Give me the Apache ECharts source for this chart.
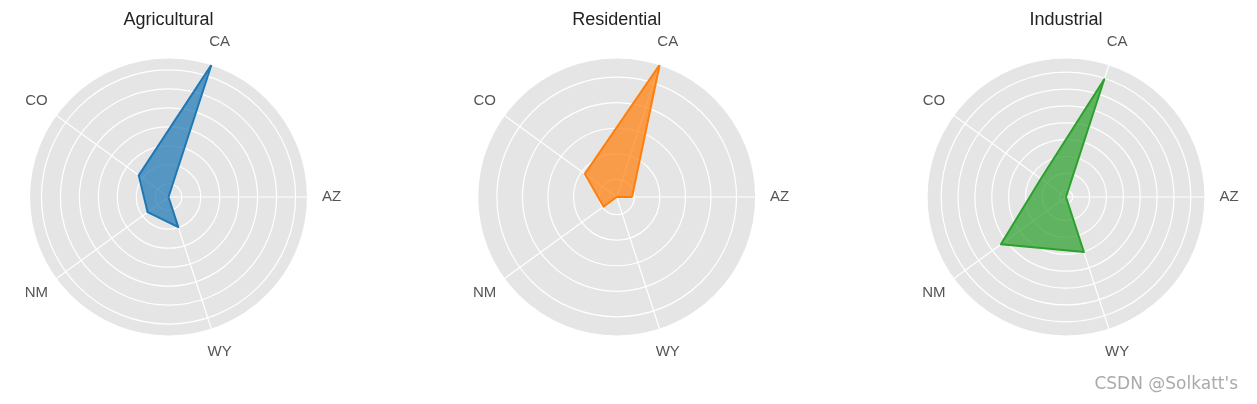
<!DOCTYPE html>
<html>
<head>
<meta charset="utf-8">
<script src="https://cdn.jsdelivr.net/npm/echarts@6/dist/echarts.min.js"></script>
<style>
  html, body { margin: 0; padding: 0; background: #fff; }
  #chart { width: 1257px; height: 404px; }
</style>
</head>
<body>
<div id="chart"></div>
<script>
// ---- data (radial values in grid-ring units; no scale labels in the source) ----
const states = ['AZ', 'CA', 'CO', 'NM', 'WY'];
const stateAngles = [0, 72, 144, 216, 288];
const titles = ['Agricultural', 'Residential', 'Industrial'];
const agricultural = [0.30, 7.63, 2.24, 1.66, 1.97];
const residential = [0.91, 5.75, 1.85, 0.95, 0.31];
const industrial = [0.60, 7.94, 2.44, 5.37, 4.03];
const radiusMin = [0.30, 0.31, 0.60];
const radiusMax = [7.63, 5.75, 8.84];
const ringCount = [7, 5, 8];

const seriesValues = [agricultural, residential, industrial];
const strokeColors = ['#1f77b4', '#ff7f0e', '#2ca02c'];
const fillColors = ['rgba(31,119,180,0.72)', 'rgba(255,127,14,0.72)', 'rgba(44,160,44,0.72)'];
const centersX = [168.5, 616.7, 1066];
const centerY = 197;
const R = 139;
const FONT = 'Liberation Sans, Arial, sans-serif';

const chart = echarts.init(document.getElementById('chart'), null, { renderer: 'canvas' });

const polar = [], angleAxis = [], radiusAxis = [], series = [], title = [];
// main polars 0..2
for (let i = 0; i < 3; i++) {
  polar.push({ center: [centersX[i], centerY], radius: R });
  radiusAxis.push({
    polarIndex: i, type: 'value', min: radiusMin[i], max: radiusMax[i], splitNumber: ringCount[i], z: 2,
    axisLine: { show: false }, axisTick: { show: false }, axisLabel: { show: false },
    splitLine: { show: true, lineStyle: { color: '#ffffff', width: 1.2 } },
    splitArea: { show: false }
  });
  angleAxis.push({
    polarIndex: i, type: 'value', min: 0, max: 360, interval: 72,
    startAngle: 0, clockwise: false, z: 2,
    axisLine: { show: false }, axisTick: { show: false },
    axisLabel: {
      margin: 23,
      formatter: function (v) {
        const k = Math.round(v / 72);
        if (k >= states.length) return '';
        return '{a|' + states[k] + '}';
      },
      rich: { a: { width: 2, lineHeight: 2, height: 2, align: 'center', verticalAlign: 'middle', fontSize: 15, color: '#555', fontFamily: FONT } }
    },
    splitLine: { show: true, lineStyle: { color: '#ffffff', width: 1.2 } },
    splitArea: { show: false }
  });
  const vals = seriesValues[i];
  const data = states.map((s, j) => [vals[j], stateAngles[j]]);
  data.push([vals[0], 360]);
  series.push({
    type: 'line', coordinateSystem: 'polar', polarIndex: i, name: titles[i],
    data: data, symbol: 'none', clip: false, z: 3,
    lineStyle: { color: strokeColors[i], width: 2, join: 'round' },
    itemStyle: { color: strokeColors[i] },
    areaStyle: { color: fillColors[i], origin: 'start', opacity: 1 }
  });
  title.push({
    text: titles[i], left: centersX[i], top: 11, textAlign: 'center', padding: 0,
    textStyle: { fontSize: 18, fontWeight: 'normal', color: '#222', fontFamily: FONT }
  });
}
// background polars 3..5: grey disc only
for (let i = 0; i < 3; i++) {
  polar.push({ center: [centersX[i], centerY], radius: R });
  radiusAxis.push({
    polarIndex: 3 + i, type: 'value', min: 0, max: 1, z: 0,
    axisLine: { show: false }, axisTick: { show: false }, axisLabel: { show: false },
    splitLine: { show: false }, splitArea: { show: false }
  });
  angleAxis.push({
    polarIndex: 3 + i, type: 'value', min: 0, max: 360, interval: 72,
    startAngle: 0, clockwise: false, z: 0,
    axisLine: { show: false }, axisTick: { show: false }, axisLabel: { show: false },
    splitLine: { show: false },
    splitArea: { show: true, areaStyle: { color: ['#e5e5e5'] } }
  });
}
title.push({
  text: "CSDN @Solkatt's", right: 14, bottom: 6,
  textStyle: { fontSize: 17, fontWeight: 'normal', color: '#aaaaaa', fontFamily: 'DejaVu Sans, sans-serif' }
});

chart.setOption({
  animation: false,
  backgroundColor: '#ffffff',
  title: title,
  polar: polar,
  angleAxis: angleAxis,
  radiusAxis: radiusAxis,
  series: series
});
</script>
</body>
</html>
